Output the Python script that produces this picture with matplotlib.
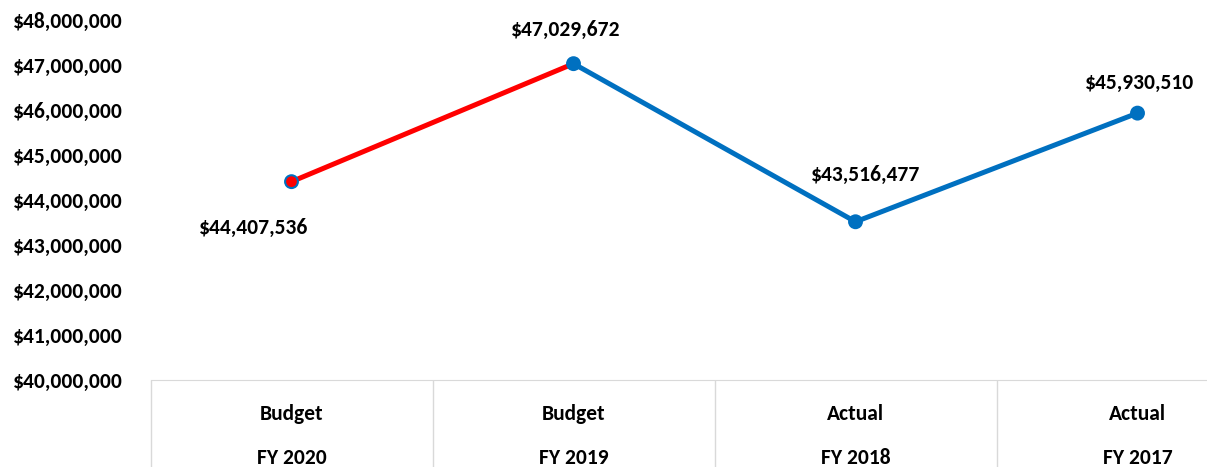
import matplotlib
matplotlib.use("Agg")
import numpy as np
from matplotlib import pyplot as plt
from matplotlib.ticker import FuncFormatter, FixedLocator

plt.rcParams['font.family'] = ['Carlito', 'DejaVu Sans']
plt.rcParams['font.weight'] = 'bold'

# data
kinds = ["Budget", "Budget", "Actual", "Actual"]
years = ["FY 2020", "FY 2019", "FY 2018", "FY 2017"]
amounts = [44407536, 47029672, 43516477, 45930510]
seg_colors = ["#FF0000", "#0070C0", "#0070C0"]
# label offsets in pixels from the point
label_offsets = [(-38, -46), (-8, 34), (10, 47), (2, 30)]

blue = "#0070C0"
grid_gray = "#D9D9D9"
fs = 15.5

fig = plt.figure(figsize=(12.07, 4.67), dpi=100)
ax = fig.add_axes([150.5 / 1207, 87 / 467, 1128 / 1207, (380 - 20) / 467])

x = np.arange(len(amounts))

# line segments, first one red
for i in range(len(amounts) - 1):
    ax.plot(x[i:i + 2], amounts[i:i + 2], color=seg_colors[i], lw=3.6,
            solid_capstyle='round', zorder=2)

# markers
face = ["#FF0000"] + [blue] * (len(amounts) - 1)
ax.scatter(x, amounts, s=85, c=face, edgecolors=blue, linewidths=1.5, zorder=3)

# data labels
for xi, v, (dx, dy) in zip(x, amounts, label_offsets):
    ax.annotate("${:,.0f}".format(v), (xi, v), xytext=(dx, dy),
                textcoords='offset pixels', ha='center', va='center',
                fontsize=fs, fontweight='bold', color='black')

ax.set_xlim(-0.5, len(amounts) - 0.5)
ax.set_ylim(40000000, 48000000)
ax.set_yticks(np.arange(40000000, 48000001, 1000000))
ax.yaxis.set_major_formatter(FuncFormatter(lambda v, p: "${:,.0f}".format(v)))
ax.tick_params(axis='y', length=0, pad=20, labelsize=fs)

# category boundaries as long ticks, labels on minor ticks
ax.xaxis.set_major_locator(FixedLocator(np.arange(-0.5, len(amounts), 1.0)))
ax.xaxis.set_minor_locator(FixedLocator(x))
ax.set_xticklabels([])
ax.set_xticklabels(kinds, minor=True)
ax.tick_params(axis='x', which='major', length=70, color=grid_gray, width=1)
ax.tick_params(axis='x', which='minor', length=0, pad=17, labelsize=fs)

# second row of category labels
for xi, yr in zip(x, years):
    ax.annotate(yr, (xi, 0), xycoords=ax.get_xaxis_transform(),
                xytext=(0, -78), textcoords='offset pixels',
                ha='center', va='center', fontsize=fs, fontweight='bold',
                annotation_clip=False)

for s in ['left', 'right', 'top']:
    ax.spines[s].set_visible(False)
ax.spines['bottom'].set_color(grid_gray)

fig.savefig("out.png", dpi=100)
